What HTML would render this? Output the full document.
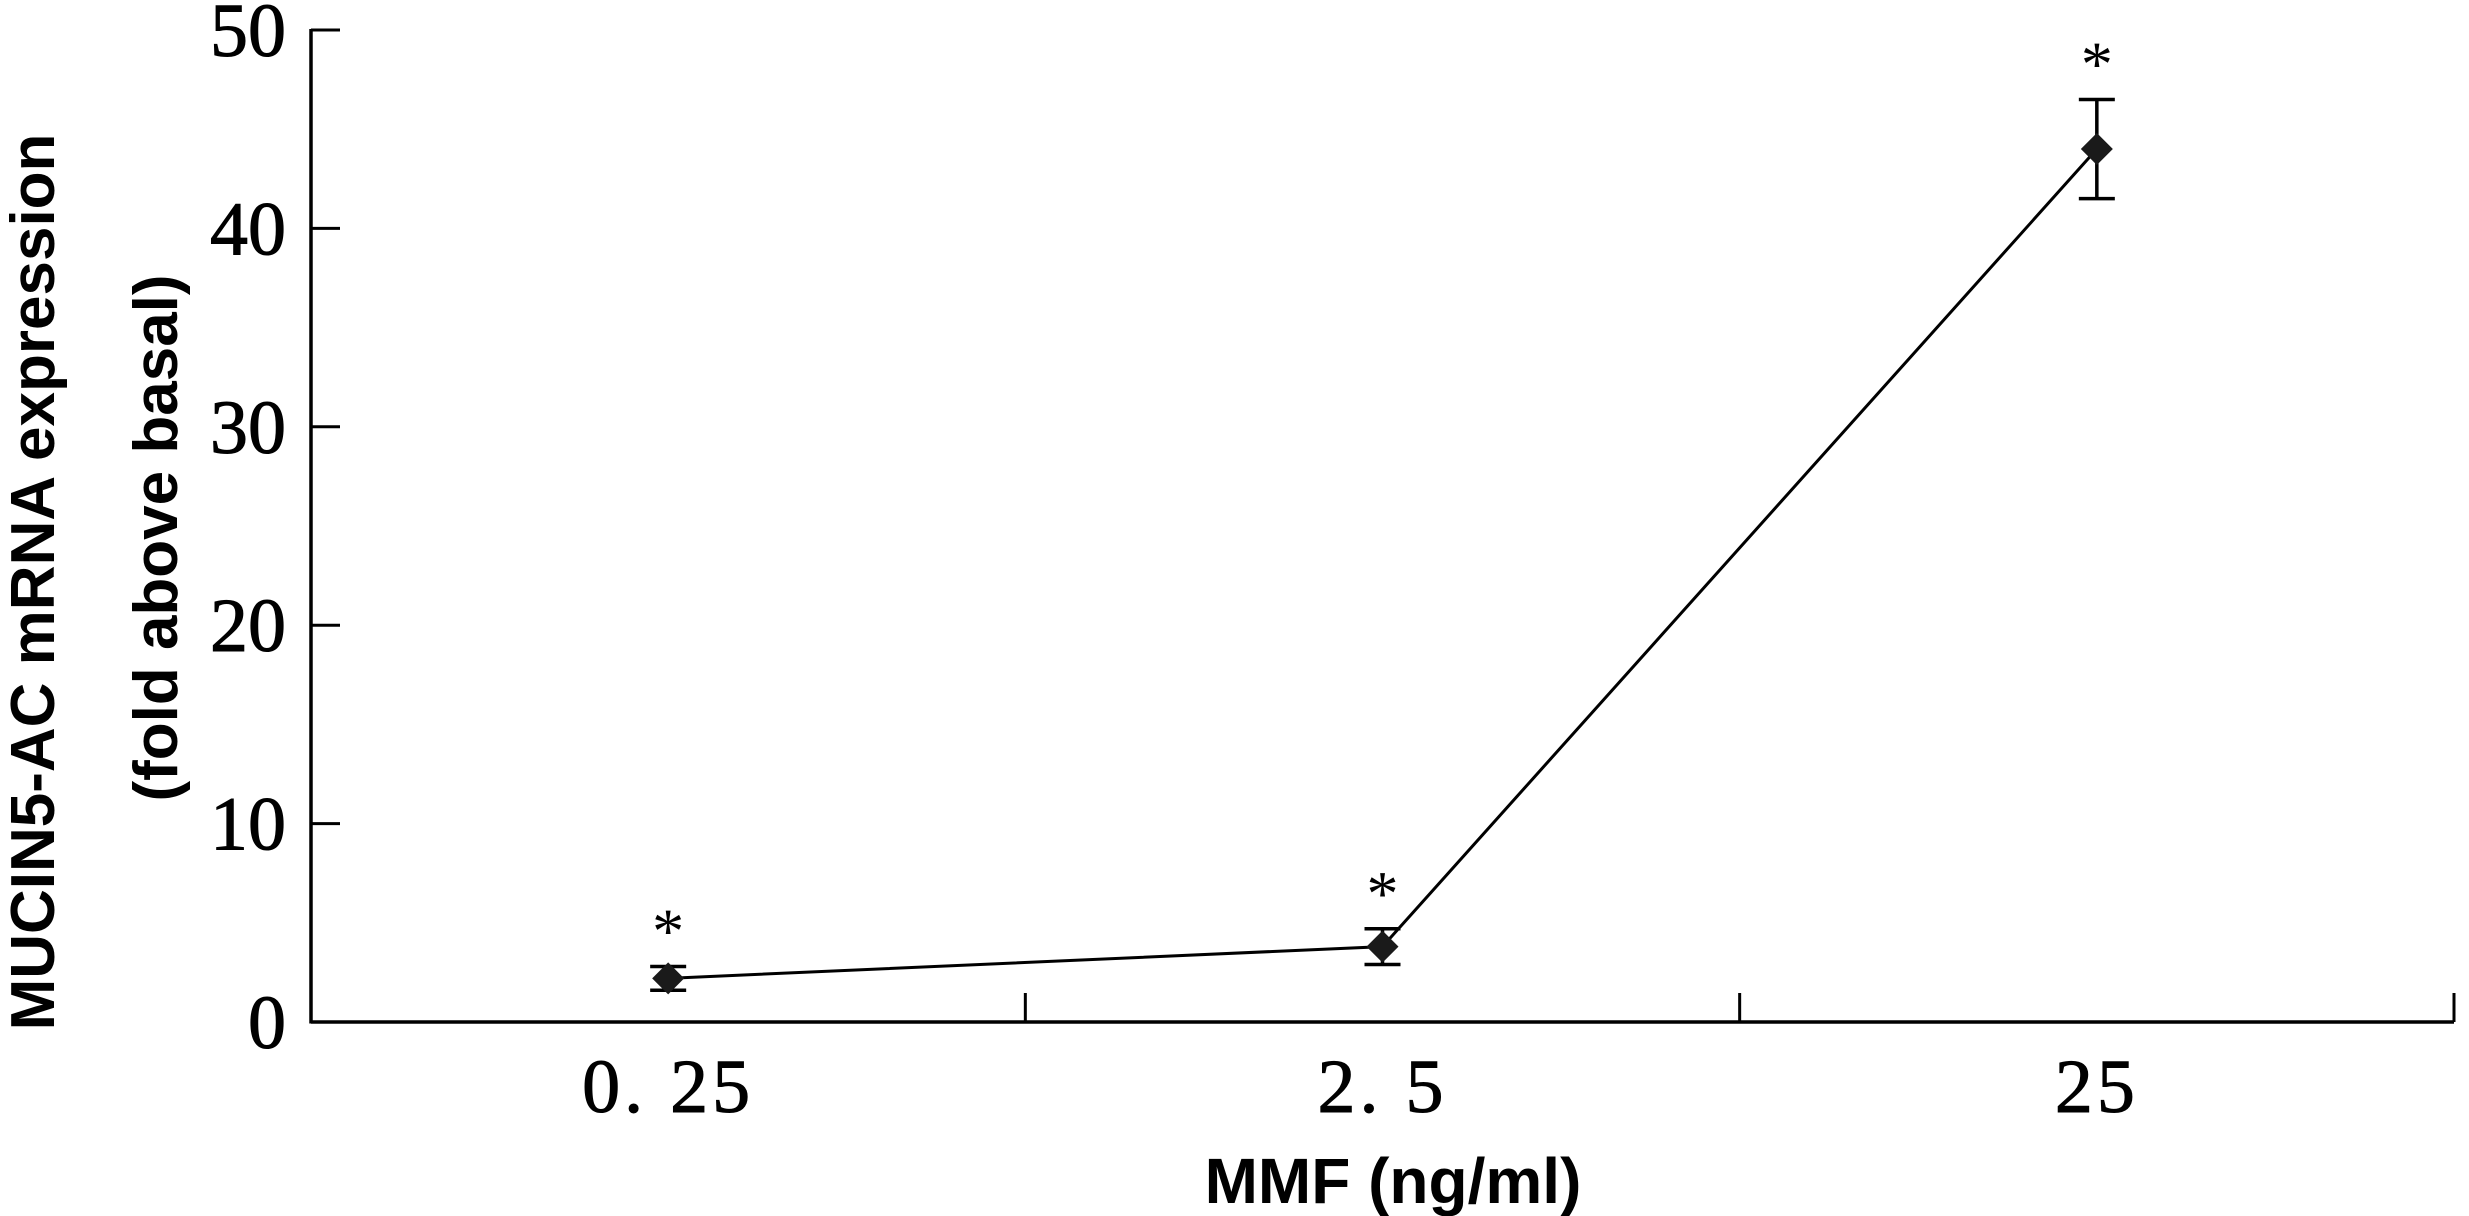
<!DOCTYPE html>
<html><head><meta charset="utf-8"><style>
body{margin:0;background:#fff}
svg{display:block}
</style></head><body>
<svg id="chart" width="2469" height="1216" viewBox="0 0 2469 1216" xmlns="http://www.w3.org/2000/svg">
<g id="axes"></g>
<g id="marks"></g>
<text transform="translate(54,582) rotate(-90)" text-anchor="middle" font-family="Liberation Sans, sans-serif" font-weight="bold" font-size="62">MUCIN5-AC mRNA expression</text>
<text transform="translate(177,538) rotate(-90)" text-anchor="middle" font-family="Liberation Sans, sans-serif" font-weight="bold" font-size="62">(fold above basal)</text>
<text x="1393" y="1203" text-anchor="middle" font-family="Liberation Sans, sans-serif" font-weight="bold" font-size="64">MMF (ng/ml)</text>
</svg>
<script>
const categories = ["0. 25", "2. 5", "25"];
const values = [2.2, 3.8, 44.0];
const errors = [0.6, 0.9, 2.5];
const yTicks = [0, 10, 20, 30, 40, 50];
const yTickLabels = ["0", "10", "20", "30", "40", "50"];

const NS = "http://www.w3.org/2000/svg";
const X0 = 311, X1 = 2454, Y0 = 1022, Y1 = 30, YMAX = 50;
const band = (X1 - X0) / categories.length;
function xScale(i){ return X0 + band * (i + 0.5); }
function yScale(v){ return Y0 - (v / YMAX) * (Y0 - Y1); }
function mk(tag, attrs, parent){ const e = document.createElementNS(NS, tag); for (const k in attrs) e.setAttribute(k, attrs[k]); parent.appendChild(e); return e; }
const axes = document.getElementById('axes'), marks = document.getElementById('marks');

let yax = mk('line', {x1:X0, y1:Y1-1, x2:X0, y2:Y0+1.5, stroke:'#000','stroke-width':3.5}, axes);


let xax = mk('line', {x1:X0, y1:Y0, x2:X1, y2:Y0, stroke:'#000','stroke-width':3.5}, axes);



yTicks.forEach((t, i) => {
  const y = yScale(t);
  const tk = mk('line', {x1:X0, y1:y, x2:X0+29, y2:y, stroke:'#000','stroke-width':3}, axes);
  
  
  const lb = mk('text', {x:X0-25, y:y+26, 'text-anchor':'end','font-family':'Liberation Serif, serif','font-size':76,'stroke':'#000','stroke-width':1}, axes);
  lb.textContent = yTickLabels[i];
  
  
});
for (let i = 1; i <= categories.length; i++) {
  const x = X0 + band * i;
  const tk = mk('line', {x1:x, y1:Y0, x2:x, y2:Y0-29, stroke:'#000','stroke-width':3}, axes);
  
  
}
categories.forEach((c, i) => {
  const lb = mk('text', {x:xScale(i), y:1112, 'text-anchor':'middle','font-family':'Liberation Serif, serif','font-size':76,'letter-spacing':4,'stroke':'#000','stroke-width':1}, axes);
  lb.textContent = c;
  
  
});

const pts = values.map((v, i) => xScale(i) + ',' + yScale(v)).join(' ');
const line = mk('polyline', {points:pts, fill:'none', stroke:'#000','stroke-width':3}, marks);



values.forEach((v, i) => {
  const x = xScale(i), y = yScale(v), yt = yScale(v + errors[i]), yb = yScale(v - errors[i]);
  const eb = mk('path', {d:`M${x},${yt}V${yb}M${x-18},${yt}H${x+18}M${x-18},${yb}H${x+18}`, stroke:'#000','stroke-width':3.5, fill:'none'}, marks);
  
  
  const d = mk('polygon', {points:`${x},${y-16} ${x+16},${y} ${x},${y+16} ${x-16},${y}`, fill:'#1a1a1a'}, marks);
  
  
  const s = mk('text', {x:x, y:yt-14, 'text-anchor':'middle','font-family':'Liberation Serif, serif','font-size':64}, marks);
  s.textContent = '*';
  
  
});
</script>
</body></html>
